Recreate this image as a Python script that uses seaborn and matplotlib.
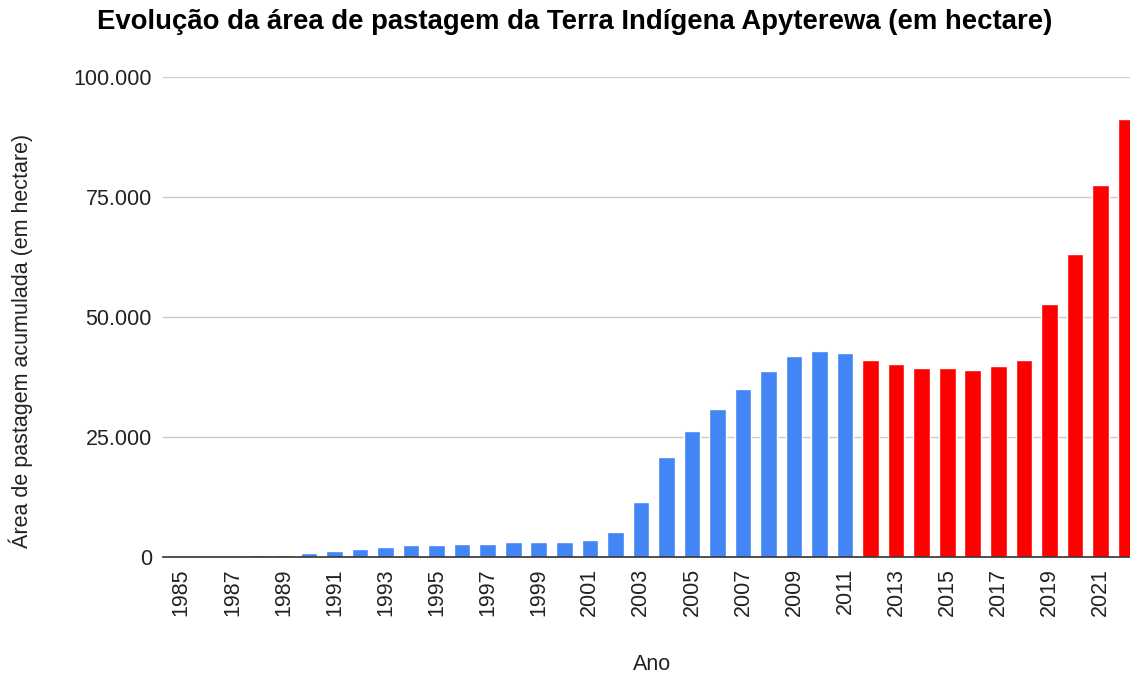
import matplotlib
matplotlib.use("Agg")
import matplotlib.pyplot as plt
import matplotlib.ticker as mticker
import pandas as pd
import seaborn as sns

years = list(range(1985, 2023))
area = [0, 0, 0, 500, 500, 850, 1250, 1650, 2000, 2400,
        2400, 2800, 2800, 3200, 3200, 3200, 3600, 5100, 11400, 20750,
        26150, 30800, 35100, 38650, 41800, 43000, 42550, 40950, 40200, 39400,
        39400, 39000, 39850, 40950, 52700, 63200, 77550, 91250]
period = ["antes"] * 27 + ["depois"] * 11
colors = {"antes": "#4285F4", "depois": "#FF0000"}

title = "Evolução da área de pastagem da Terra Indígena Apyterewa (em hectare)"
xlabel = "Ano"
ylabel = "Área de pastagem acumulada (em hectare)"

data = pd.DataFrame({"ano": [str(y) for y in years], "area": area, "periodo": period})

sns.set_style("white")
plt.rcParams["font.family"] = ["Liberation Sans", "DejaVu Sans"]

fig = plt.figure(figsize=(11.3, 6.78), dpi=100)
ax = fig.add_axes([0.1442, 0.1785, 0.8558, 0.7079])

sns.barplot(data=data, x="ano", y="area", hue="periodo", palette=colors,
            dodge=False, width=0.65, saturation=1, legend=False, ax=ax, zorder=3)

ax.set_xlim(-0.72, 37.16)
ax.set_ylim(0, 100000)
ax.set_yticks([0, 25000, 50000, 75000, 100000])
ax.yaxis.set_major_formatter(mticker.FuncFormatter(lambda v, p: f"{int(v):,}".replace(",", ".")))
ax.yaxis.grid(True, color="#cccccc", linewidth=1, zorder=0)
ax.set_axisbelow(True)

ax.set_xticks(range(0, len(years), 2))
ax.set_xticklabels([str(y) for y in years[::2]], rotation=90)
ax.tick_params(axis="x", length=0, pad=8, labelsize=15.5, labelcolor="#222222")
ax.tick_params(axis="y", length=0, pad=8, labelsize=15.5, labelcolor="#222222")

for s in ["top", "right", "left"]:
    ax.spines[s].set_visible(False)
ax.spines["bottom"].set_color("#333333")
ax.spines["bottom"].set_linewidth(1.2)
ax.spines["bottom"].set_zorder(4)

ax.set_xlabel("")
ax.set_ylabel(ylabel, fontsize=15.5, color="#222222")
ax.yaxis.set_label_coords(-0.134, 0.45)
fig.text(652 / 1130, 1 - 665 / 678, xlabel, ha="center", va="center",
         fontsize=15.5, color="#222222")

fig.text(0.5084, 1 - 22 / 678, title, ha="center", va="center", fontsize=19.8,
         fontweight="bold", color="#000000")

fig.savefig("out.png", dpi=100)
